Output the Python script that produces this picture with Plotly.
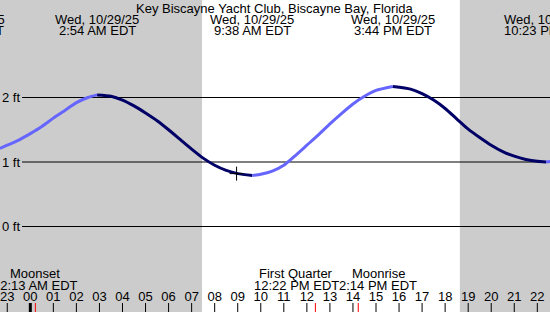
import plotly.graph_objects as go

# ---- data (hours relative to Wed 10/29/25 00:00 EDT) ----
tide_hours = [-1.32, -1.0, -0.5, 0.0, 0.5, 1.0, 1.5, 2.0, 2.5, 2.9, 3.5, 4.0, 4.5, 5.0, 5.5,
              6.0, 6.5, 7.0, 7.5, 8.0, 8.5, 9.0, 9.63, 10.0, 10.5, 11.0, 11.5, 12.0, 12.5,
              13.0, 13.5, 14.0, 14.5, 15.0, 15.73, 16.5, 17.0, 17.5, 18.0, 18.5, 19.0, 19.5,
              20.0, 20.5, 21.0, 21.5, 22.0, 22.38, 22.6]
tide_ft = [1.21, 1.26, 1.34, 1.44, 1.55, 1.68, 1.80, 1.92, 2.00, 2.04, 2.02, 1.96, 1.87, 1.76, 1.64,
           1.50, 1.35, 1.20, 1.06, 0.95, 0.87, 0.82, 0.79, 0.81, 0.86, 0.95, 1.10, 1.26, 1.42,
           1.59, 1.75, 1.90, 2.02, 2.11, 2.17, 2.13, 2.06, 1.96, 1.83, 1.67, 1.51, 1.38,
           1.26, 1.16, 1.09, 1.04, 1.01, 1.00, 1.01]

extreme_hours = [-2.84, 2.9, 9.63, 15.73, 22.38]
extreme_dates = ["Tue, 10/28/25", "Wed, 10/29/25", "Wed, 10/29/25", "Wed, 10/29/25", "Wed, 10/29/25"]
extreme_times = ["9:07 PM EDT", "2:54 AM EDT", "9:38 AM EDT", "3:44 PM EDT", "10:23 PM EDT"]

now_hour = [8.95]
now_ft = [0.82]

sunrise, sunset = 7.45, 18.64

moon_hours = [0.22, 12.37, 14.23]
moon_names = ["Moonset", "First Quarter", "Moonrise"]
moon_times = ["12:13 AM EDT", "12:22 PM EDT", "2:14 PM EDT"]
moon_label_shift = [0, -19, 20]

hour_ticks = list(range(-1, 23))
hour_labels = ["23"] + ["%02d" % h for h in range(0, 23)]

level_ft = [0, 1, 2]
level_labels = ["0 ft", "1 ft", "2 ft"]

title = "Key Biscayne Yacht Club, Biscayne Bay, Florida"

XMIN, XMAX = -1.315, 22.55
YMAX = 226.5 / 64.5
YMIN = -(312 - 226.5) / 64.5
FONT = "Liberation Sans, Arial, sans-serif"
RISE = "#6666ff"
FALL = "#000066"
TICK_FRAC = 9 / 312

fig = go.Figure()

# split curve into rising / falling runs
runs = []
cur = [0]
cur_dir = tide_ft[1] >= tide_ft[0]
for i in range(1, len(tide_ft)):
    d = tide_ft[i] >= tide_ft[i - 1]
    if d != cur_dir:
        runs.append((cur_dir, cur))
        cur = [i - 1]
        cur_dir = d
    cur.append(i)
runs.append((cur_dir, cur))

for rising, idx in runs:
    fig.add_trace(go.Scatter(
        x=[tide_hours[i] for i in idx], y=[tide_ft[i] for i in idx],
        mode="lines", line=dict(color=RISE if rising else FALL, width=3,
                                shape="spline", smoothing=0.6),
        hoverinfo="skip", showlegend=False))

fig.add_trace(go.Scatter(x=now_hour, y=now_ft, mode="markers",
                         marker=dict(symbol="cross-thin", size=10, line=dict(color="black", width=1)),
                         hoverinfo="skip", showlegend=False))

shapes = []
shapes.append(dict(type="rect", xref="x", yref="paper", x0=sunrise, x1=sunset, y0=0, y1=1,
                   fillcolor="white", line=dict(width=0), layer="below"))
for lv in level_ft:
    shapes.append(dict(type="line", xref="paper", yref="y", x0=22 / 550, x1=1, y0=lv, y1=lv,
                       line=dict(color="black", width=1), layer="below"))
for ht in hour_ticks:
    shapes.append(dict(type="line", xref="x", yref="paper", x0=ht, x1=ht, y0=0, y1=TICK_FRAC,
                       line=dict(color="black", width=1)))
# midnight marker
shapes.append(dict(type="line", xref="x", yref="paper", x0=0, x1=0, y0=0, y1=TICK_FRAC,
                   line=dict(color="black", width=3)))
for mh in moon_hours:
    shapes.append(dict(type="line", xref="x", yref="paper", x0=mh, x1=mh, y0=0, y1=TICK_FRAC,
                       line=dict(color="red", width=1)))

def hx(h):
    return (h - XMIN) / (XMAX - XMIN)

def txt(text, x, ypx, xanchor="center", xshift=0, xref="paper", yref="paper"):
    return dict(text=text, xref=xref, yref=yref, x=x, y=(1 - ypx / 312) if yref == "paper" else ypx,
                xshift=xshift, showarrow=False, xanchor=xanchor, yanchor="middle",
                font=dict(size=13, color="black", family=FONT))

ann = [txt(title, 0.5, 8)]
for h, dt, tm in zip(extreme_hours, extreme_dates, extreme_times):
    ann.append(txt(dt, hx(h), 19))
    ann.append(txt(tm, hx(h), 31))
for h, nm, tm, sh in zip(moon_hours, moon_names, moon_times, moon_label_shift):
    ann.append(txt(nm, hx(h), 273, xshift=sh))
    ann.append(txt(tm, hx(h), 285, xshift=sh))
for lv, lb in zip(level_ft, level_labels):
    ann.append(txt(lb, 0, lv, xanchor="left", yref="y"))

fig.update_layout(
    width=550, height=312, margin=dict(l=0, r=0, t=0, b=0),
    paper_bgcolor="#cccccc", plot_bgcolor="#cccccc",
    shapes=shapes, annotations=ann, showlegend=False,
    xaxis=dict(range=[XMIN, XMAX], tickvals=hour_ticks, ticktext=hour_labels,
               ticks="", ticklabelposition="inside", ticklabelstandoff=5,
               showgrid=False, zeroline=False, showline=False,
               tickfont=dict(size=13, color="black", family=FONT), fixedrange=True),
    yaxis=dict(range=[YMIN, YMAX], visible=False, fixedrange=True),
)

fig.write_html("out.html")
